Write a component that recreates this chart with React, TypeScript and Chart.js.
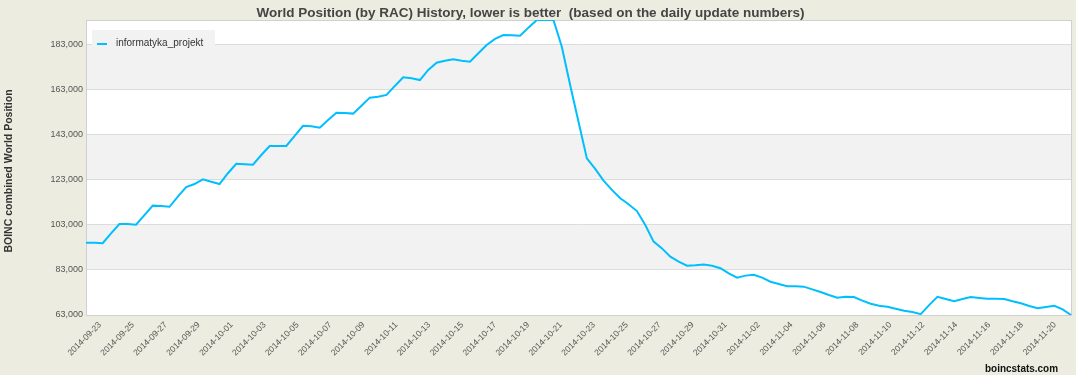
import React, { useEffect, useRef } from 'react';
import { Chart, registerables } from 'chart.js';

Chart.register(...registerables);

// ---------- data ----------
const seriesName = 'informatyka_projekt';
const chartTitle = 'World Position (by RAC) History, lower is better  (based on the daily update numbers)';
const yAxisTitle = 'BOINC combined World Position';
const watermark = 'boincstats.com';

// one value every 12 hours, starting 2014-09-23 00:00
const startUtc = Date.UTC(2014, 8, 23);
const stepHours = 12;

const worldPosition = [
  95100, 95100, 94900, 99300, 103400, 103400, 103100, 107400, 111600, 111400,
  111100, 115600, 119800, 121200, 123300, 122200, 121200, 126000, 130200, 130000,
  129800, 134100, 138100, 138100, 138100, 142600, 147100, 146900, 146200, 149700,
  152900, 152800, 152500, 156000, 159600, 160000, 160800, 164800, 168600, 168200,
  167400, 171900, 175100, 176000, 176600, 176000, 175600, 179300, 183000, 185700,
  187400, 187300, 187100, 190700, 194100, 194100, 194100, 182200, 165200, 148900,
  132600, 127900, 122700, 118600, 114900, 112200, 109200, 103000, 95600, 92600,
  88900, 86700, 84900, 85100, 85400, 84900, 83800, 81500, 79600, 80500,
  80900, 79600, 77800, 76800, 75800, 75800, 75600, 74400, 73200, 71900,
  70700, 71100, 71000, 69400, 68000, 67100, 66700, 65800, 64900, 64300,
  63400, 67400, 71100, 70100, 69100, 70100, 71000, 70600, 70200, 70200,
  70100, 69100, 68200, 67000, 66000, 66600, 67100, 65500, 63000,
];

const tickDates = [
  '2014-09-23', '2014-09-25', '2014-09-27', '2014-09-29', '2014-10-01', '2014-10-03',
  '2014-10-05', '2014-10-07', '2014-10-09', '2014-10-11', '2014-10-13', '2014-10-15',
  '2014-10-17', '2014-10-19', '2014-10-21', '2014-10-23', '2014-10-25', '2014-10-27',
  '2014-10-29', '2014-10-31', '2014-11-02', '2014-11-04', '2014-11-06', '2014-11-08',
  '2014-11-10', '2014-11-12', '2014-11-14', '2014-11-16', '2014-11-18', '2014-11-20',
];

const yTicks = [63000, 83000, 103000, 123000, 143000, 163000, 183000];
const yMin = 63000;
const yMax = 194100;
const shadedBands = [
  [83000, 103000],
  [123000, 143000],
  [163000, 183000],
];

const categories = worldPosition.map((_, i) => {
  const d = new Date(startUtc + i * stepHours * 3600000);
  return d.toISOString().slice(0, 13).replace('T', ' ') + 'h';
});

// ---------- styles ----------
const FONT = '"Liberation Sans", Arial, sans-serif';
const LINE_COLOR = '#00bfff';
const PAGE_BG = '#ecece0';
const BAND_BG = '#f2f2f2';

const decorPlugin = {
  id: 'decor',
  beforeDraw(chart: any) {
    const { ctx, chartArea: a, scales } = chart;
    ctx.save();
    ctx.fillStyle = PAGE_BG;
    ctx.fillRect(0, 0, chart.width, chart.height);
    ctx.fillStyle = '#ffffff';
    ctx.fillRect(a.left, a.top, a.right - a.left, a.bottom - a.top);
    ctx.fillStyle = BAND_BG;
    for (const [lo, hi] of shadedBands) {
      const y1 = scales.y.getPixelForValue(hi);
      const y2 = scales.y.getPixelForValue(lo);
      ctx.fillRect(a.left, y1, a.right - a.left, y2 - y1);
    }
    ctx.restore();
  },
  beforeDatasetsDraw(chart: any) {
    const { ctx, chartArea: a } = chart;
    ctx.save();
    ctx.strokeStyle = '#d0d0d0';
    ctx.lineWidth = 1;
    ctx.strokeRect(a.left + 0.5, a.top + 0.5, a.right - a.left, a.bottom - a.top);
    ctx.restore();
  },
  afterDraw(chart: any) {
    const { ctx, chartArea: a } = chart;
    const ds = chart.data.datasets[0];
    ctx.save();

    // legend
    const lx = a.left + 6;
    const ly = a.top + 10;
    ctx.fillStyle = '#f2f2f2';
    ctx.fillRect(lx, ly, 123, 23);
    ctx.strokeStyle = ds.borderColor;
    ctx.lineWidth = 2;
    ctx.beginPath();
    ctx.moveTo(lx + 5, ly + 14);
    ctx.lineTo(lx + 15, ly + 14);
    ctx.stroke();
    ctx.fillStyle = '#333333';
    ctx.font = `10px ${FONT}`;
    ctx.textAlign = 'left';
    ctx.textBaseline = 'middle';
    ctx.fillText(ds.label, lx + 24, ly + 13.5);

    // title
    ctx.fillStyle = '#454545';
    ctx.font = `bold 13.5px ${FONT}`;
    ctx.textAlign = 'center';
    ctx.textBaseline = 'alphabetic';
    ctx.fillText(chartTitle, 530.5, 17);

    // y axis title
    ctx.save();
    ctx.translate(11.7, (a.top + a.bottom) / 2 + 3.5);
    ctx.rotate(-Math.PI / 2);
    ctx.fillStyle = '#333333';
    ctx.font = `bold 10.5px ${FONT}`;
    ctx.textAlign = 'center';
    ctx.fillText(yAxisTitle, 0, 0);
    ctx.restore();

    // watermark
    ctx.font = `bold 11px ${FONT}`;
    ctx.fillStyle = '#111111';
    const w = ctx.measureText(watermark).width;
    ctx.save();
    ctx.translate(1058, 372);
    ctx.scale(73 / w, 1);
    ctx.textAlign = 'right';
    ctx.fillText(watermark, 0, 0);
    ctx.restore();

    ctx.restore();
  },
};

export default function App() {
  const canvasRef = useRef<HTMLCanvasElement | null>(null);

  useEffect(() => {
    const canvas = canvasRef.current;
    if (!canvas) return;
    const chart = new Chart(canvas, {
      type: 'line',
      data: {
        labels: categories,
        datasets: [
          {
            label: seriesName,
            data: worldPosition,
            borderColor: LINE_COLOR,
            backgroundColor: LINE_COLOR,
            borderWidth: 2,
            pointRadius: 0,
            tension: 0,
            fill: false,
            xAxisID: 'x',
            yAxisID: 'y',
          },
        ],
      },
      options: {
        animation: false,
        responsive: false,
        devicePixelRatio: 1,
        layout: { padding: { top: 20, right: 5, left: 0, bottom: 0 } },
        plugins: {
          legend: { display: false },
          title: { display: false },
          tooltip: { enabled: false },
        },
        scales: {
          x: { type: 'category', display: false, offset: false },
          xLabels: {
            type: 'linear',
            position: 'bottom',
            min: -0.425,
            max: 29.487,
            grid: { display: false },
            border: { display: false },
            afterBuildTicks: (s: any) => {
              s.ticks = tickDates.map((_, k) => ({ value: k }));
            },
            afterFit: (s: any) => {
              s.height = 60;
            },
            ticks: {
              autoSkip: false,
              maxRotation: 45,
              minRotation: 45,
              padding: -3,
              color: '#555555',
              font: { family: FONT, size: 8.5 },
              callback: (v: any) => tickDates[v] ?? '',
            },
          },
          y: {
            min: yMin,
            max: yMax,
            afterBuildTicks: (s: any) => {
              s.ticks = yTicks.map((v) => ({ value: v }));
            },
            afterFit: (s: any) => {
              s.width = 86;
            },
            grid: { color: '#dcdcdc', drawTicks: false },
            border: { display: false },
            ticks: {
              padding: 3,
              color: '#555555',
              font: { family: FONT, size: 9 },
              callback: (v: any) => Number(v).toLocaleString('en-US'),
            },
          },
        },
      },
      plugins: [decorPlugin],
    });
    return () => chart.destroy();
  }, []);

  return (
    <div style={{ position: 'fixed', left: 0, top: 0, width: 1076, height: 375 }}>
      <canvas ref={canvasRef} width={1076} height={375} />
    </div>
  );
}
